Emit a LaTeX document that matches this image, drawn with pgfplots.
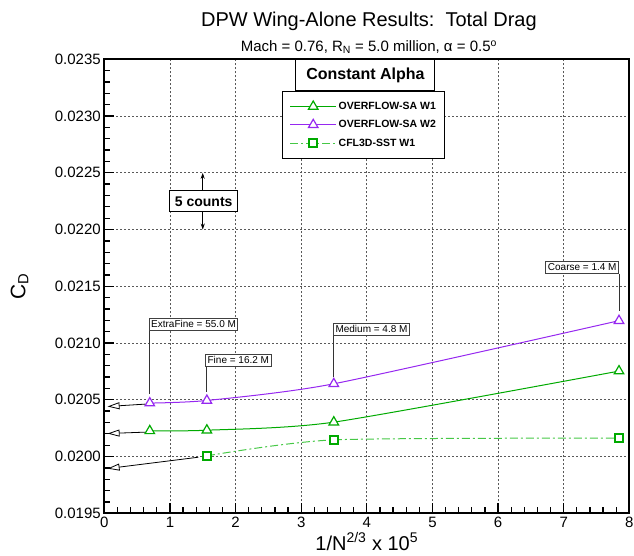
\documentclass[border=0pt]{standalone}
\usepackage{fontspec}
\setmainfont{Liberation Sans}
\usepackage{pgfplots}
\pgfplotsset{compat=1.18}
\usetikzlibrary{arrows.meta}
\definecolor{w2}{RGB}{150,40,240}
\definecolor{w1}{RGB}{0,170,0}
\definecolor{cfl}{RGB}{70,200,70}
\begin{document}
\begin{tikzpicture}
\useasboundingbox (-104.3pt,-42.7pt) rectangle (529.7pt,513.3pt);
\begin{axis}[
  scale only axis, width=525pt, height=454pt,
  xmin=0, xmax=8, ymin=0.0195, ymax=0.0235,
  xtick={0,1,2,3,4,5,6,7,8},
  ytick={0.0195,0.0200,0.0205,0.0210,0.0215,0.0220,0.0225,0.0230,0.0235},
  minor x tick num=4, minor y tick num=4,
  tick align=inside, tick pos=left,
  grid=major,
  major grid style={black!65, dash pattern=on 2pt off 2pt, line width=0.8pt},
  axis line style={line width=2pt},
  major tick length=10pt, minor tick length=6pt,
  tick style={black, line width=1.3pt},
  tick label style={font=\fontsize{15}{18}\selectfont},
  /pgf/number format/assume math mode=true,
  scaled y ticks=false,
  yticklabel style={/pgf/number format/.cd, fixed, fixed zerofill, precision=4},
  clip=false,
  legend style={at={(rel axis cs:0.339,0.931)}, anchor=north west, draw=black,
    line width=0.9pt,
    fill=white, font=\fontsize{10.5}{12}\selectfont\bfseries,
    inner xsep=7pt, inner ysep=9pt, row sep=5.5pt, cells={anchor=west}},
  legend image code/.code={\draw[mark repeat=2,mark phase=2] plot coordinates {(0pt,0pt) (23pt,0pt) (46pt,0pt)};},
]
% extrapolation arrows
\addplot[black, line width=0.8pt, -{Triangle[open, length=12pt, width=7pt, line width=0.8pt]}, forget plot]
  coordinates {(0.625,0.020462) (0.05,0.020441)};
\addplot[black, line width=0.8pt, -{Triangle[open, length=12pt, width=7pt, line width=0.8pt]}, forget plot]
  coordinates {(0.625,0.020215) (0.05,0.020203)};
\addplot[black, line width=0.8pt, -{Triangle[open, length=12pt, width=7pt, line width=0.8pt]}, forget plot]
  coordinates {(1.433,0.019994) (0.05,0.019894)};
% leader lines
\addplot[black!80, line width=1pt, forget plot] coordinates {(0.693,0.021103) (0.693,0.02055)};
\addplot[black!80, line width=1pt, forget plot] coordinates {(1.553,0.020788) (1.553,0.02057)};
\addplot[black!80, line width=1pt, forget plot] coordinates {(3.497,0.021059) (3.497,0.02070)};
\addplot[black!80, line width=1pt, forget plot] coordinates {(7.843,0.021609) (7.843,0.02128)};
% 5 counts arrow
\addplot[black, line width=0.8pt, {Stealth[length=6pt,width=4pt]}-{Stealth[length=6pt,width=4pt]}, forget plot]
  coordinates {(1.5,0.0220) (1.5,0.0225)};
% data
\addplot[w1, line width=1pt, smooth, tension=0.4, mark=triangle*, mark size=5.5pt,
  mark options={solid, line width=1.2pt, draw=w1, fill=white}]
  coordinates {(0.693,0.020226) (1.563,0.020232) (3.497,0.020303) (7.843,0.020753)};
\addlegendentry{OVERFLOW-SA W1}
\addplot[w2, line width=1pt, smooth, tension=0.4, mark=triangle*, mark size=5.5pt,
  mark options={solid, line width=1.2pt, draw=w2, fill=white}]
  coordinates {(0.693,0.020471) (1.563,0.020494) (3.497,0.020641) (7.843,0.021197)};
\addlegendentry{OVERFLOW-SA W2}
\addplot[cfl, line width=1pt, smooth, tension=0.4, dash pattern=on 8pt off 3pt on 2pt off 3pt, forget plot]
  coordinates {(1.563,0.020006) (3.497,0.020147) (7.843,0.020162)};
\addplot[only marks, mark=square*, mark size=4pt, mark options={draw=w1, line width=1.6pt, fill=white}, forget plot]
  coordinates {(1.563,0.020006) (3.497,0.020147) (7.843,0.020162)};
\addlegendimage{legend image code/.code={
  \draw[cfl, line width=1pt, dash pattern=on 8pt off 3pt on 2pt off 3pt] (0pt,0pt) -- (46pt,0pt);
  \draw[w1, line width=1.6pt, fill=white] (19pt,-4pt) rectangle (27pt,4pt);}}
\addlegendentry{CFL3D-SST W1}
% annotations
\node[draw=black!75, line width=0.9pt, fill=white, font=\fontsize{10}{12}\selectfont,
  inner xsep=2pt, inner ysep=1.7pt, text height=7.5pt, text depth=1.5pt, anchor=south west]
  at (axis cs:0.677,0.021103) {ExtraFine = 55.0 M};
\node[draw=black!75, line width=0.9pt, fill=white, font=\fontsize{10}{12}\selectfont,
  inner xsep=2pt, inner ysep=1.7pt, text height=7.5pt, text depth=1.5pt, anchor=south west]
  at (axis cs:1.537,0.020788) {Fine = 16.2 M};
\node[draw=black!75, line width=0.9pt, fill=white, font=\fontsize{10}{12}\selectfont,
  inner xsep=2pt, inner ysep=1.7pt, text height=7.5pt, text depth=1.5pt, anchor=south west]
  at (axis cs:3.486,0.021059) {Medium = 4.8 M};
\node[draw=black!75, line width=0.9pt, fill=white, font=\fontsize{10}{12}\selectfont,
  inner xsep=2pt, inner ysep=1.7pt, text height=7.5pt, text depth=1.5pt, anchor=south east]
  at (axis cs:7.843,0.021609) {Coarse = 1.4 M};
\node[draw=black, line width=1pt, fill=white, font=\fontsize{14}{16}\selectfont\bfseries,
  inner xsep=5pt, inner ysep=5.5pt, text height=10pt, text depth=0pt]
  at (axis cs:1.515,0.02225) {5 counts};
\node[draw=black, line width=1pt, fill=white, anchor=north, font=\fontsize{16}{19}\selectfont\bfseries,
  minimum width=139pt, minimum height=31pt]
  at (axis cs:3.98,0.0235) {Constant Alpha};
% titles and labels
\node[anchor=base, yshift=33pt, font=\fontsize{20}{24}\selectfont]
  at (axis description cs:0.504,1) {DPW Wing-Alone Results:\ \ Total Drag};
\node[anchor=base, yshift=8pt, font=\fontsize{15}{18}\selectfont]
  at (axis description cs:0.504,1) {Mach = 0.76, R\textsubscript{N} = 5.0 million, α = 0.5\textsuperscript{o}};
\node[rotate=90, anchor=base, font=\fontsize{21}{24}\selectfont]
  at (axis description cs:-0.1505,0.5) {C\textsubscript{D}};
\node[anchor=base, yshift=-37pt, font=\fontsize{20}{24}\selectfont]
  at (axis description cs:0.5,0) {1/N\textsuperscript{2/3} x 10\textsuperscript{5}};
\end{axis}
\end{tikzpicture}
\end{document}
